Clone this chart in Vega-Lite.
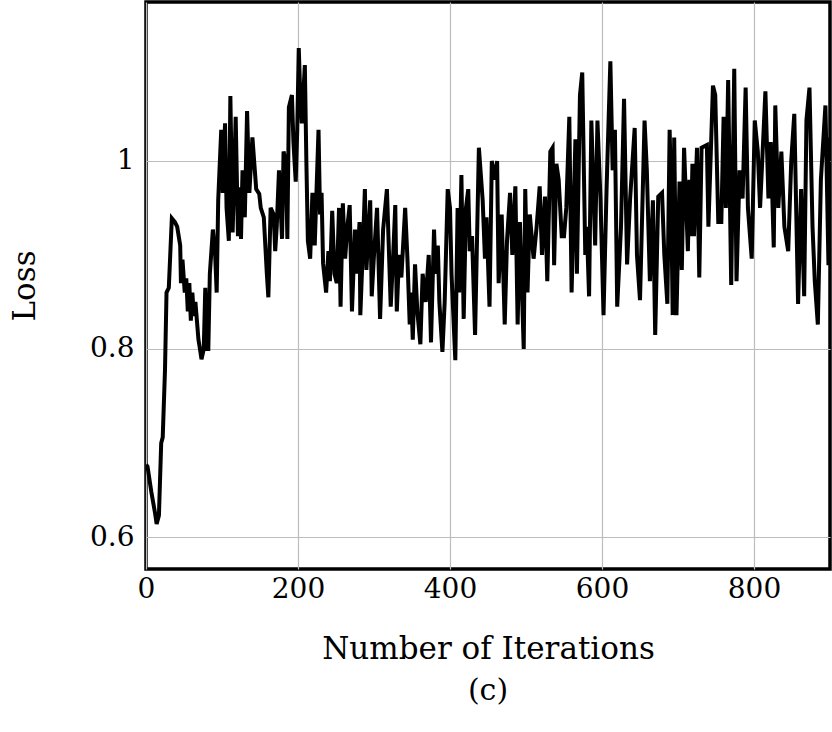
{
  "$schema": "https://vega.github.io/schema/vega-lite/v6.json",
  "autosize": "none",
  "width": 684,
  "height": 567,
  "padding": {"left": 146, "top": 2, "right": 2, "bottom": 163},
  "background": "white",
  "config": {
    "view": {"stroke": "black", "strokeWidth": 3.5},
    "font": "DejaVu Serif"
  },
  "title": {"text": "(c)", "orient": "bottom", "font": "DejaVu Serif", "fontSize": 30, "fontWeight": "normal", "color": "black", "offset": 12},
  "data": {"values": [
    {"it":0,"loss":0.677},{"it":2,"loss":0.675},{"it":7,"loss":0.648},{"it":12,"loss":0.625},{"it":14,"loss":0.614},{"it":17,"loss":0.623},{"it":20,"loss":0.70},{"it":22,"loss":0.706},{"it":25,"loss":0.778},{"it":27,"loss":0.86},{"it":30,"loss":0.865},{"it":34,"loss":0.939},{"it":38,"loss":0.935},{"it":41,"loss":0.93},{"it":45,"loss":0.91},{"it":46,"loss":0.87},{"it":48,"loss":0.895},{"it":51,"loss":0.86},{"it":53,"loss":0.875},{"it":55,"loss":0.84},{"it":57,"loss":0.87},{"it":59,"loss":0.83},{"it":61,"loss":0.86},{"it":63,"loss":0.835},{"it":65,"loss":0.85},{"it":67,"loss":0.83},{"it":69,"loss":0.81},{"it":71,"loss":0.80},{"it":73,"loss":0.789},{"it":76,"loss":0.80},{"it":78,"loss":0.865},{"it":80,"loss":0.80},{"it":82,"loss":0.80},{"it":84,"loss":0.88},{"it":88,"loss":0.927},{"it":91,"loss":0.90},{"it":93,"loss":0.86},{"it":95,"loss":0.958},{"it":99,"loss":1.033},{"it":101,"loss":0.966},{"it":104,"loss":1.04},{"it":106,"loss":0.95},{"it":109,"loss":0.915},{"it":111,"loss":1.069},{"it":114,"loss":0.924},{"it":118,"loss":1.047},{"it":121,"loss":0.92},{"it":123,"loss":0.972},{"it":125,"loss":0.917},{"it":127,"loss":0.99},{"it":130,"loss":0.94},{"it":133,"loss":1.053},{"it":136,"loss":0.966},{"it":140,"loss":1.025},{"it":145,"loss":0.97},{"it":149,"loss":0.965},{"it":151,"loss":0.95},{"it":155,"loss":0.94},{"it":159,"loss":0.88},{"it":161,"loss":0.855},{"it":164,"loss":0.95},{"it":168,"loss":0.943},{"it":170,"loss":0.904},{"it":172,"loss":0.93},{"it":175,"loss":0.99},{"it":179,"loss":0.917},{"it":181,"loss":1.01},{"it":184,"loss":1.0},{"it":186,"loss":0.917},{"it":188,"loss":1.057},{"it":192,"loss":1.07},{"it":194,"loss":1.02},{"it":197,"loss":0.978},{"it":199,"loss":1.033},{"it":201,"loss":1.12},{"it":203,"loss":1.069},{"it":205,"loss":1.04},{"it":209,"loss":1.102},{"it":211,"loss":1.0},{"it":213,"loss":0.915},{"it":216,"loss":0.896},{"it":219,"loss":0.966},{"it":222,"loss":0.91},{"it":227,"loss":1.033},{"it":229,"loss":0.943},{"it":231,"loss":0.966},{"it":233,"loss":0.891},{"it":237,"loss":0.86},{"it":240,"loss":0.904},{"it":242,"loss":0.872},{"it":245,"loss":0.947},{"it":248,"loss":0.88},{"it":251,"loss":0.87},{"it":254,"loss":0.95},{"it":256,"loss":0.845},{"it":259,"loss":0.955},{"it":262,"loss":0.896},{"it":265,"loss":0.93},{"it":268,"loss":0.953},{"it":271,"loss":0.84},{"it":275,"loss":0.927},{"it":277,"loss":0.88},{"it":281,"loss":0.935},{"it":282,"loss":0.836},{"it":285,"loss":0.90},{"it":288,"loss":0.97},{"it":290,"loss":0.884},{"it":295,"loss":0.958},{"it":297,"loss":0.856},{"it":300,"loss":0.90},{"it":304,"loss":0.95},{"it":308,"loss":0.832},{"it":312,"loss":0.927},{"it":317,"loss":0.97},{"it":319,"loss":0.92},{"it":322,"loss":0.845},{"it":325,"loss":0.895},{"it":328,"loss":0.953},{"it":330,"loss":0.84},{"it":333,"loss":0.90},{"it":336,"loss":0.876},{"it":341,"loss":0.95},{"it":344,"loss":0.896},{"it":347,"loss":0.826},{"it":349,"loss":0.86},{"it":351,"loss":0.81},{"it":354,"loss":0.89},{"it":357,"loss":0.84},{"it":361,"loss":0.805},{"it":364,"loss":0.88},{"it":368,"loss":0.85},{"it":372,"loss":0.90},{"it":375,"loss":0.807},{"it":379,"loss":0.927},{"it":381,"loss":0.88},{"it":384,"loss":0.91},{"it":386,"loss":0.85},{"it":390,"loss":0.797},{"it":393,"loss":0.85},{"it":397,"loss":0.97},{"it":400,"loss":0.95},{"it":402,"loss":0.88},{"it":407,"loss":0.788},{"it":410,"loss":0.95},{"it":412,"loss":0.86},{"it":415,"loss":0.985},{"it":418,"loss":0.832},{"it":421,"loss":0.95},{"it":424,"loss":0.97},{"it":426,"loss":0.904},{"it":429,"loss":0.92},{"it":433,"loss":0.815},{"it":438,"loss":1.014},{"it":443,"loss":0.958},{"it":446,"loss":0.896},{"it":448,"loss":0.94},{"it":452,"loss":0.845},{"it":455,"loss":1.0},{"it":459,"loss":0.98},{"it":462,"loss":1.0},{"it":464,"loss":0.87},{"it":468,"loss":0.943},{"it":472,"loss":0.826},{"it":475,"loss":0.915},{"it":479,"loss":0.966},{"it":482,"loss":0.90},{"it":486,"loss":0.973},{"it":489,"loss":0.826},{"it":492,"loss":0.935},{"it":494,"loss":0.88},{"it":497,"loss":0.80},{"it":499,"loss":0.97},{"it":502,"loss":0.86},{"it":505,"loss":0.943},{"it":510,"loss":0.896},{"it":514,"loss":0.93},{"it":518,"loss":0.973},{"it":521,"loss":0.90},{"it":525,"loss":0.962},{"it":528,"loss":0.872},{"it":532,"loss":1.01},{"it":535,"loss":1.014},{"it":537,"loss":0.889},{"it":540,"loss":0.997},{"it":543,"loss":0.98},{"it":547,"loss":0.92},{"it":550,"loss":0.92},{"it":553,"loss":0.95},{"it":557,"loss":1.047},{"it":560,"loss":0.86},{"it":565,"loss":1.023},{"it":567,"loss":0.88},{"it":571,"loss":1.07},{"it":574,"loss":1.094},{"it":578,"loss":0.90},{"it":580,"loss":0.93},{"it":583,"loss":0.856},{"it":586,"loss":1.043},{"it":591,"loss":0.91},{"it":594,"loss":1.043},{"it":598,"loss":0.96},{"it":602,"loss":0.836},{"it":606,"loss":0.97},{"it":611,"loss":1.106},{"it":614,"loss":0.99},{"it":617,"loss":1.033},{"it":620,"loss":0.845},{"it":625,"loss":0.93},{"it":629,"loss":1.066},{"it":633,"loss":0.89},{"it":637,"loss":0.96},{"it":643,"loss":1.035},{"it":646,"loss":0.90},{"it":650,"loss":0.852},{"it":656,"loss":1.043},{"it":659,"loss":0.99},{"it":663,"loss":0.872},{"it":667,"loss":0.958},{"it":670,"loss":0.815},{"it":674,"loss":0.962},{"it":679,"loss":0.966},{"it":682,"loss":0.90},{"it":686,"loss":0.848},{"it":689,"loss":1.033},{"it":691,"loss":0.96},{"it":693,"loss":0.836},{"it":695,"loss":1.025},{"it":698,"loss":0.836},{"it":702,"loss":0.978},{"it":705,"loss":0.884},{"it":708,"loss":1.014},{"it":713,"loss":0.904},{"it":715,"loss":0.98},{"it":717,"loss":0.92},{"it":719,"loss":0.997},{"it":721,"loss":0.92},{"it":725,"loss":1.014},{"it":728,"loss":0.876},{"it":731,"loss":1.014},{"it":738,"loss":1.017},{"it":740,"loss":0.93},{"it":746,"loss":1.08},{"it":749,"loss":1.07},{"it":753,"loss":0.935},{"it":757,"loss":0.935},{"it":760,"loss":1.047},{"it":763,"loss":0.95},{"it":766,"loss":1.086},{"it":770,"loss":0.868},{"it":774,"loss":1.098},{"it":777,"loss":0.872},{"it":781,"loss":0.99},{"it":785,"loss":0.96},{"it":789,"loss":1.078},{"it":792,"loss":0.95},{"it":797,"loss":0.896},{"it":801,"loss":1.043},{"it":805,"loss":1.01},{"it":808,"loss":0.95},{"it":815,"loss":1.074},{"it":819,"loss":0.96},{"it":822,"loss":1.02},{"it":826,"loss":0.908},{"it":828,"loss":1.059},{"it":832,"loss":0.95},{"it":836,"loss":1.01},{"it":840,"loss":0.93},{"it":845,"loss":0.904},{"it":849,"loss":1.0},{"it":853,"loss":1.05},{"it":858,"loss":0.848},{"it":862,"loss":0.97},{"it":866,"loss":0.856},{"it":869,"loss":1.043},{"it":873,"loss":1.078},{"it":877,"loss":0.93},{"it":880,"loss":0.872},{"it":884,"loss":0.826},{"it":888,"loss":0.98},{"it":894,"loss":1.059},{"it":898,"loss":0.889},{"it":900,"loss":1.025}
  ]},
  "mark": {"type": "line", "color": "black", "strokeWidth": 4, "clip": true},
  "encoding": {
    "x": {
      "field": "it", "type": "quantitative",
      "scale": {"domain": [0, 900], "nice": false, "zero": false},
      "axis": {
        "title": "Number of Iterations",
        "values": [0, 200, 400, 600, 800],
        "labelFont": "DejaVu Serif", "labelFontSize": 28, "labelColor": "black",
        "labelFlush": false, "labelPadding": 6,
        "titleFont": "DejaVu Serif", "titleFontSize": 31, "titleFontWeight": "normal", "titleColor": "black", "titlePadding": 31,
        "domain": false, "ticks": false,
        "grid": true, "gridColor": "#bdbdbd", "gridWidth": 1.2
      }
    },
    "y": {
      "field": "loss", "type": "quantitative",
      "scale": {"domain": [0.566, 1.169], "nice": false, "zero": false},
      "axis": {
        "title": "Loss",
        "values": [0.6, 0.8, 1.0],
        "format": ".1~f",
        "labelFont": "DejaVu Serif", "labelFontSize": 28, "labelColor": "black",
        "labelPadding": 12,
        "titleFont": "DejaVu Serif", "titleFontSize": 31, "titleFontWeight": "normal", "titleColor": "black", "titlePadding": 48,
        "domain": false, "ticks": false,
        "grid": true, "gridColor": "#bdbdbd", "gridWidth": 1.2
      }
    }
  }
}
